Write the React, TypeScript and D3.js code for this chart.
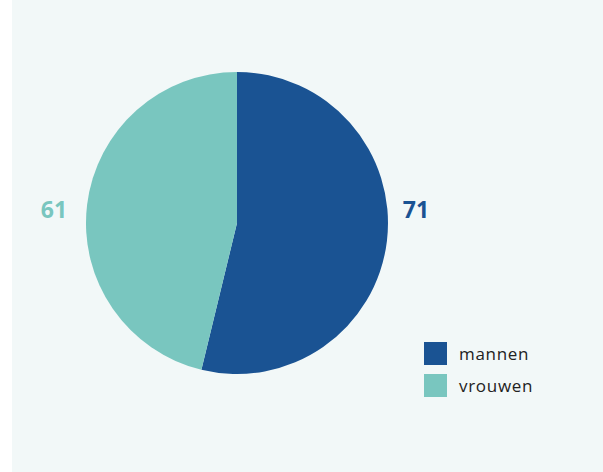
import React from "react";
import * as d3 from "d3";

const categories = ["mannen", "vrouwen"];
const values = [71, 61];
const colors = ["#1a5393", "#79c6bf"];

export default function App() {
  const W = 603;
  const H = 472;
  const cx = 237;
  const cy = 223;
  const r = 151;

  const pie = d3.pie<number>().sort(null).value((d) => d);
  const arcs = pie(values);
  const arcGen = d3.arc<d3.PieArcDatum<number>>().innerRadius(0).outerRadius(r);

  const labelPos = [
    { x: 416, y: 218, anchor: "middle" },
    { x: 54, y: 218, anchor: "middle" },
  ];

  return (
    <svg
      width={W}
      height={H}
      style={{ position: "absolute", left: 0, top: 0 }}
      fontFamily="'Open Sans', sans-serif"
    >
      <rect x={0} y={0} width={W} height={H} fill="#ffffff" />
      <rect x={12} y={0} width={W - 12} height={H} fill="#f2f8f8" />
      <g transform={`translate(${cx},${cy})`}>
        {arcs.map((a, i) => (
          <path key={i} d={arcGen(a) || ""} fill={colors[i]} />
        ))}
      </g>
      {values.map((v, i) => (
        <text
          key={i}
          x={labelPos[i].x}
          y={labelPos[i].y}
          textAnchor={labelPos[i].anchor as any}
          fontSize={23}
          fontWeight={700}
          fill={colors[i]}
        >
          {v}
        </text>
      ))}
      {categories.map((c, i) => (
        <g key={c} transform={`translate(424,${342 + i * 32})`}>
          <rect width={23} height={23} fill={colors[i]} />
          <text x={35} y={18} fontSize={17} letterSpacing={0.7} fill="#222222">
            {c}
          </text>
        </g>
      ))}
    </svg>
  );
}
